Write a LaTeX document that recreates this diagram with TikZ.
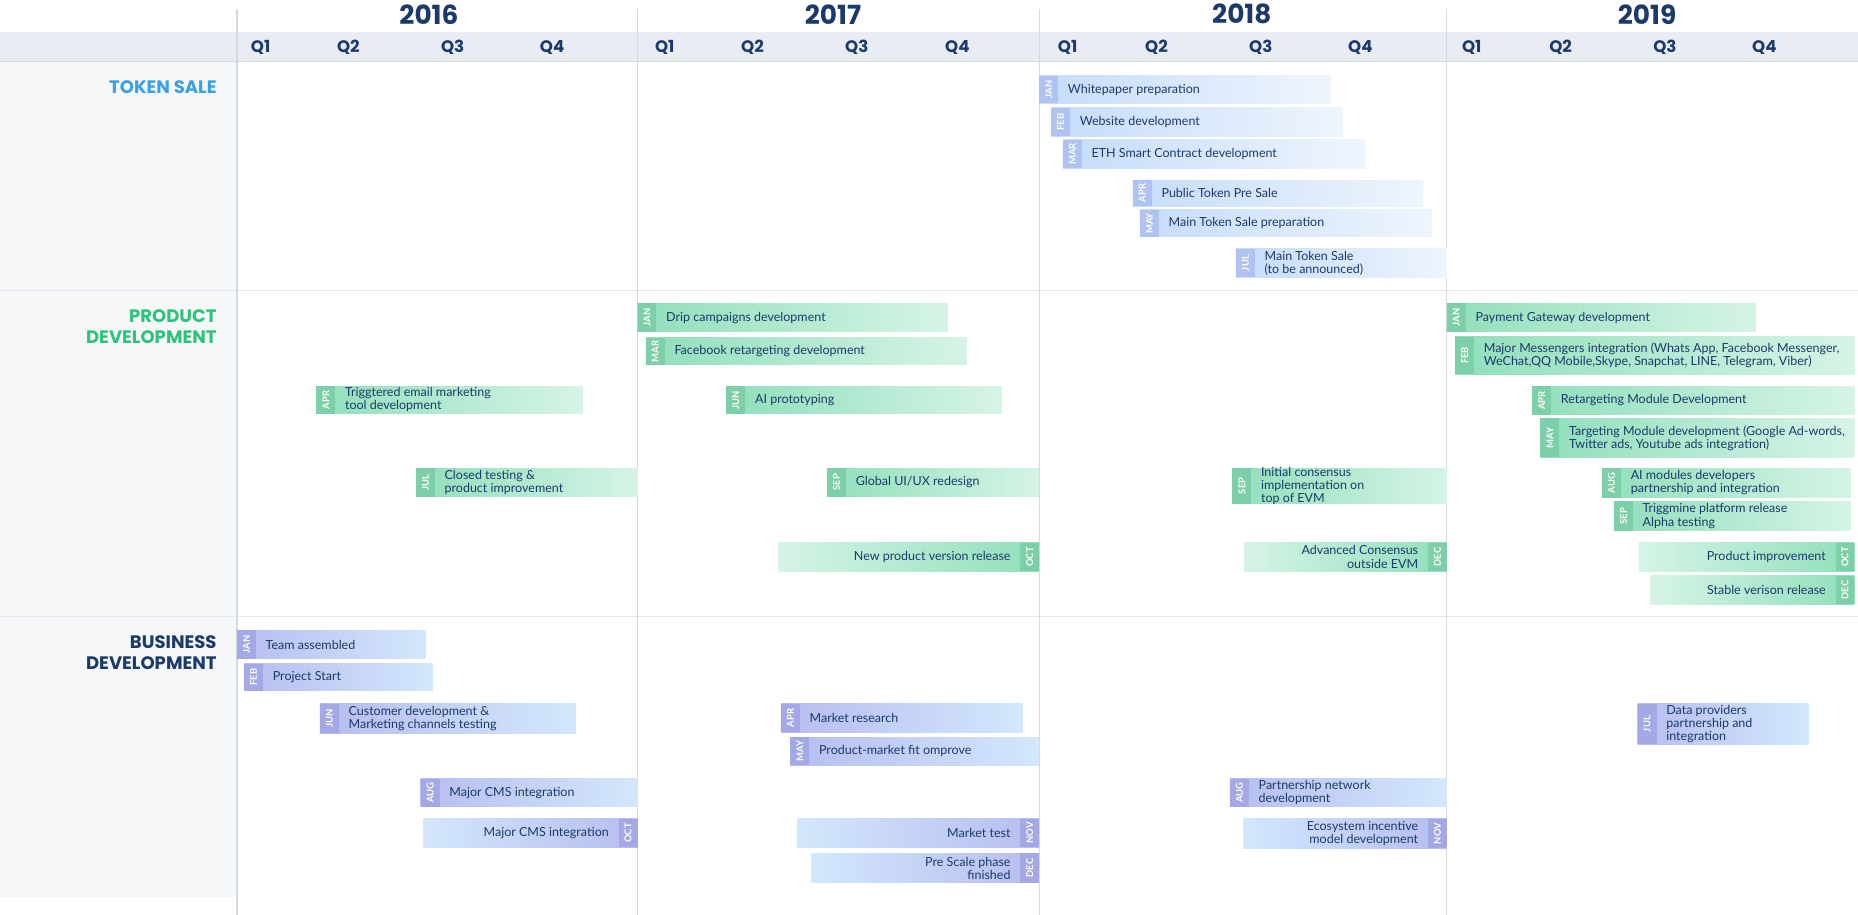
\documentclass[tikz,border=0pt]{standalone}
\usepackage{fontspec}
\setmainfont{Poppins}
\newfontfamily\bodyf{Lato}
\definecolor{navy}{HTML}{1B3A6B}
\definecolor{tsA}{HTML}{AFC2F2}\definecolor{tsB}{HTML}{C6DCFA}\definecolor{tsC}{HTML}{EEF5FD}
\definecolor{pdA}{HTML}{7CCFA8}\definecolor{pdB}{HTML}{90DFBB}\definecolor{pdC}{HTML}{D6F4E6}
\definecolor{bdA}{HTML}{A4A8E4}\definecolor{bdB}{HTML}{B6BDF0}\definecolor{bdC}{HTML}{D3E7FC}
\definecolor{panel}{HTML}{F5F7F9}\definecolor{head}{HTML}{E9EDF3}\definecolor{hline}{HTML}{D8DEE6}
\definecolor{sline}{HTML}{E3E7EC}\definecolor{vline}{HTML}{D3DAE3}
\definecolor{tsT}{HTML}{3AA0E8}\definecolor{pdT}{HTML}{2DC37A}
\tikzset{tag/.style={rotate=90,text=white,font=\fontsize{6.8}{6.8}\selectfont\bodyf\bfseries,inner sep=0pt},
lbl/.style={text=navy,font=\fontsize{9}{9.4}\selectfont\bodyf,align=left,inner sep=0pt},
lblr/.style={text=navy,font=\fontsize{9}{9.4}\selectfont\bodyf,align=right,inner sep=0pt},
yr/.style={text=navy,font=\fontsize{19}{19}\selectfont\bfseries},
qt/.style={text=navy,font=\fontsize{12}{12}\selectfont\bfseries},
sec/.style={font=\fontsize{13}{15}\selectfont\bfseries,align=right,anchor=north east,inner sep=0pt}}
\newcommand\barL[7]{%
 \shade[left color=#5B,right color=#5C] (#1,#3) rectangle (#2,#4);
 \fill[#5A] (#1,#3) rectangle ({#1+16},#4);
 \node[tag] at ({#1+8},{(#3+#4)/2}) {#6};
 \node[lbl,anchor=west] at ({#1+24},{(#3+#4)/2}) {#7};}
\newcommand\barR[7]{%
 \shade[left color=#5C,right color=#5B] (#1,#3) rectangle (#2,#4);
 \fill[#5A] ({#2-16},#3) rectangle (#2,#4);
 \node[tag] at ({#2-8},{(#3+#4)/2}) {#6};
 \node[lblr,anchor=east] at ({#2-24},{(#3+#4)/2}) {#7};}
\begin{document}
\begin{tikzpicture}[x=0.03cm,y=-0.03cm]
\useasboundingbox (0,0) rectangle (1568,772);
\fill[white] (0,0) rectangle (1568,772);
\fill[panel] (0,52) rectangle (200,757);
\fill[head] (0,27) rectangle (1568,52);
\draw[hline] (0,52) -- (1568,52);
\foreach \y in {245,520} \draw[sline] (0,\y) -- (1568,\y);
\foreach \x in {200,538,877,1221} \draw[vline,line width=0.8pt] (\x,8) -- (\x,772);
\node[yr] (y16) at (362,12) {2016};
\node[yr] (y17) at (703,12) {2017};
\node[yr] (y18) at (1048,12) {2018};
\node[yr] (y19) at (1390,12) {2019};
\foreach \x/\q in {220/Q1,294/Q2,382/Q3,466/Q4,561/Q1,635/Q2,723/Q3,808/Q4,901/Q1,976/Q2,1064/Q3,1148/Q4,1242/Q1,1317/Q2,1405/Q3,1489/Q4}
  \node[qt] at (\x,40) {\q};
\node[sec,text=tsT] (s1) at (183,68) {TOKEN SALE};
\node[sec,text=pdT] (s2) at (183,261) {PRODUCT\\DEVELOPMENT};
\node[sec,text=navy] (s3) at (183,536) {BUSINESS\\DEVELOPMENT};
% token sale
\barL{877}{1123}{64}{87}{ts}{JAN}{Whitepaper preparation}
\barL{887}{1133}{91}{115}{ts}{FEB}{Website development}
\barL{897}{1152}{118}{142}{ts}{MAR}{ETH Smart Contract development}
\barL{956}{1201}{152}{174}{ts}{APR}{Public Token Pre Sale}
\barL{962}{1208}{177}{200}{ts}{MAY}{Main Token Sale preparation}
\barL{1043}{1221}{210}{234}{ts}{JUL}{Main Token Sale\\(to be announced)}
% product
\barL{538}{800}{256}{280}{pd}{JAN}{Drip campaigns development}
\barL{545}{816}{285}{308}{pd}{MAR}{Facebook retargeting development}
\barL{267}{492}{326}{349}{pd}{APR}{Triggtered email marketing\\tool development}
\barL{613}{845}{326}{349}{pd}{JUN}{AI prototyping}
\barL{351}{538}{395}{419}{pd}{JUL}{Closed testing \&\\product improvement}
\barL{698}{877}{395}{419}{pd}{SEP}{Global UI/UX redesign}
\barR{657}{877}{458}{482}{pd}{OCT}{New product version release}
\barL{1040}{1221}{395}{425}{pd}{SEP}{Initial consensus\\implementation on\\top of EVM}
\barR{1050}{1221}{458}{482}{pd}{DEC}{Advanced Consensus\\outside EVM}
\barL{1221}{1482}{256}{280}{pd}{JAN}{Payment Gateway development}
\barL{1228}{1565}{284}{316}{pd}{FEB}{Major Messengers integration (Whats App, Facebook  Messenger,\\WeChat,QQ Mobile,Skype,  Snapchat, LINE, Telegram, Viber)}
\barL{1293}{1565}{326}{350}{pd}{APR}{Retargeting Module Development}
\barL{1300}{1565}{353}{386}{pd}{MAY}{Targeting Module development (Google Ad-words,\\Twitter ads, Youtube ads integration)}
\barL{1352}{1562}{395}{420}{pd}{AUG}{AI modules developers\\partnership and integration}
\barL{1362}{1562}{423}{448}{pd}{SEP}{Triggmine platform release\\Alpha testing}
\barR{1383}{1565}{458}{482}{pd}{OCT}{Product improvement}
\barR{1393}{1565}{486}{510}{pd}{DEC}{Stable verison release}
% business
\barL{200}{359}{532}{556}{bd}{JAN}{Team assembled}
\barL{206}{365}{560}{583}{bd}{FEB}{Project Start}
\barL{270}{486}{594}{619}{bd}{JUN}{Customer development \&\\Marketing channels testing}
\barL{355}{538}{657}{681}{bd}{AUG}{Major CMS integration}
\barR{357}{538}{691}{715}{bd}{OCT}{Major CMS integration}
\barL{659}{863}{594}{618}{bd}{APR}{Market research}
\barL{667}{877}{622}{646}{bd}{MAY}{Product-market fit omprove}
\barR{673}{877}{691}{715}{bd}{NOV}{Market test}
\barR{685}{877}{720}{745}{bd}{DEC}{Pre Scale phase\\finished}
\barL{1038}{1221}{657}{681}{bd}{AUG}{Partnership network\\development}
\barR{1049}{1221}{691}{716}{bd}{NOV}{Ecosystem incentive\\model development}
\barL{1382}{1526}{594}{628}{bd}{JUL}{Data providers\\partnership and\\integration}
\end{tikzpicture}
\end{document}
